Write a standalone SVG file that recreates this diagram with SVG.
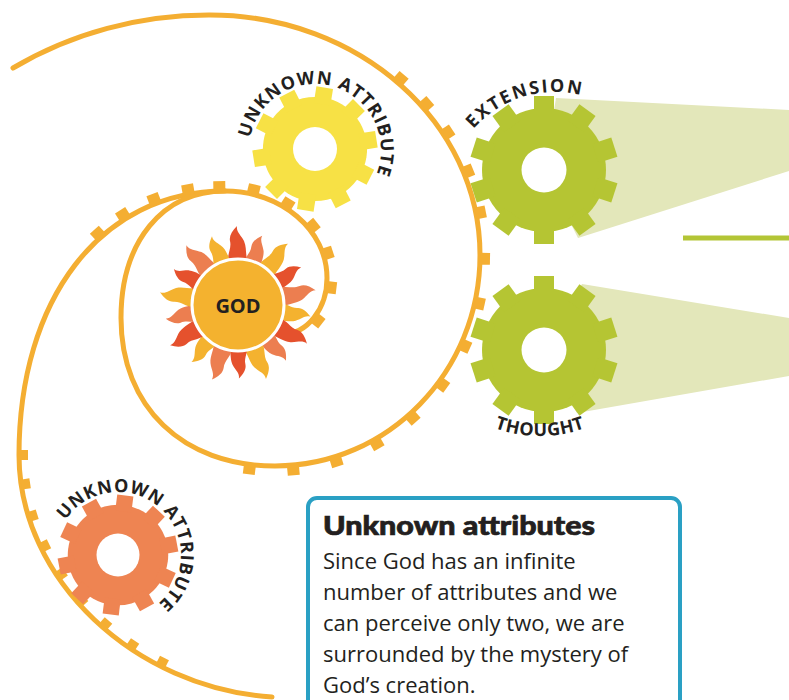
<svg xmlns="http://www.w3.org/2000/svg" xmlns:xlink="http://www.w3.org/1999/xlink" width="789" height="700" viewBox="0 0 789 700">
  <style>
    .spiral { fill: none; stroke: #f4ae32; stroke-width: 5; stroke-linecap: round; }
    .tooth { fill: #f4ae32; }
    .beam { fill: #e3e7ba; }
    .hole { fill: #ffffff; }
    .lbl { font-family: "Open Sans", "DejaVu Sans", sans-serif; font-weight: 700; font-size: 18px; fill: #231f20; letter-spacing: 1px; }
    .title { font-family: "Lato", "Open Sans", sans-serif; font-weight: 900; font-size: 26px; fill: #231f20; stroke: #231f20; stroke-width: 0.7px; }
    .body { font-family: "Open Sans", "DejaVu Sans", sans-serif; font-weight: 400; font-size: 22px; fill: #231f20; }
  </style>
  <defs>
    <!-- gear outline: body disc plus ten square teeth -->
    <g id="gear">
      <circle r="62"/>
      <rect x="-10" y="-74" width="20" height="20"/>
      <rect x="-10" y="-74" width="20" height="20" transform="rotate(36)"/>
      <rect x="-10" y="-74" width="20" height="20" transform="rotate(72)"/>
      <rect x="-10" y="-74" width="20" height="20" transform="rotate(108)"/>
      <rect x="-10" y="-74" width="20" height="20" transform="rotate(144)"/>
      <rect x="-10" y="-74" width="20" height="20" transform="rotate(180)"/>
      <rect x="-10" y="-74" width="20" height="20" transform="rotate(216)"/>
      <rect x="-10" y="-74" width="20" height="20" transform="rotate(252)"/>
      <rect x="-10" y="-74" width="20" height="20" transform="rotate(288)"/>
      <rect x="-10" y="-74" width="20" height="20" transform="rotate(324)"/>
    </g>
    <!-- spiral teeth, base on the stroke centre, pointing along -y -->
    <rect id="tb" class="tooth" x="-6" y="-10" width="12" height="10"/>
    <rect id="ts" class="tooth" x="-5" y="-9" width="10" height="9"/>
    <!-- one wavy sun ray pointing up -->
    <path id="ray" d="M-9,-42 C-12,-50 -6,-56 -8,-64 C-9,-69 -6,-74 -1,-79 C-2,-73 3,-70 6,-64 C9,-57 7,-51 10,-42 Z"/>
    <path id="arcY" d="M268.3,196.7 A66 66 0 1 1 361.7,196.7"/>
    <path id="arcO" d="M63.4,586.5 A63 63 0 1 1 149.5,609.6"/>
    <path id="arcE" d="M447,200 A108 108 0 0 1 663,200"/>
    <path id="arcT" d="M406,302 A134 134 0 0 0 674,302"/>
  </defs>

  <!-- light beams from the two perceived attributes -->
  <g id="beams">
    <polygon class="beam" points="556,98 789,110 789,171 578,238 544,170"/>
    <polygon class="beam" points="582,284 789,318 789,376 577,413 544,350"/>
    <line x1="683" y1="238" x2="789" y2="238" stroke="#b3c536" stroke-width="5"/>
  </g>

  <!-- spiral connectors -->
  <g id="connectors">
    <path id="spiral-inner" class="spiral" d="M283,334 C307,334 327,309 327,278 C327,230 281.3,191 225,191 C100,191 19,300 19,455 C19,580 135,688 272,697"/>
    <path id="spiral-outer" class="spiral" d="M225,191 C162.6,191 121,241.8 121,318 C121,406.8 182.6,466 275,466 C388.2,466 480,371.5 480,255 C480,122.5 359,15 210,15 A360 330 0 0 0 13,68"/>
    <g id="teeth-inner">
      <use href="#tb" transform="translate(314,317.6) rotate(128)"/>
      <use href="#tb" transform="translate(326.5,287) rotate(97)"/>
      <use href="#tb" transform="translate(323.3,254.5) rotate(72)"/>
      <use href="#tb" transform="translate(309.2,228.8) rotate(51)"/>
      <use href="#tb" transform="translate(285.2,207.8) rotate(32)"/>
      <use href="#tb" transform="translate(252.6,194.3) rotate(13.5)"/>
      <use href="#tb" transform="translate(219.4,191.1) rotate(-1)"/>
      <use href="#tb" transform="translate(188.8,194.2) rotate(-10)"/>
      <use href="#tb" transform="translate(155.6,203.5) rotate(-21)"/>
      <use href="#tb" transform="translate(125.4,218.7) rotate(-32)"/>
      <use href="#tb" transform="translate(101,237.1) rotate(-42)"/>
    </g>
    <g id="teeth-lower">
      <use href="#ts" transform="translate(19,455) rotate(90)"/>
      <use href="#ts" transform="translate(21.2,484.6) rotate(81.6)"/>
      <use href="#ts" transform="translate(28.6,516.9) rotate(72.6)"/>
      <use href="#ts" transform="translate(40.9,547.7) rotate(64)"/>
      <use href="#ts" transform="translate(57.6,576.5) rotate(55.9)"/>
      <use href="#ts" transform="translate(78.3,603.3) rotate(48.3)"/>
      <use href="#ts" transform="translate(102.6,627.2) rotate(41.1)"/>
      <use href="#ts" transform="translate(130.1,648.4) rotate(34)"/>
      <use href="#ts" transform="translate(160.4,666.1) rotate(27)"/>
    </g>
    <g id="teeth-outer">
      <use href="#tb" transform="translate(250,464.4) rotate(-172.8)"/>
      <use href="#tb" transform="translate(292.9,465.2) rotate(174.9)"/>
      <use href="#tb" transform="translate(334.9,456.8) rotate(162.5)"/>
      <use href="#tb" transform="translate(374.4,439.5) rotate(150.3)"/>
      <use href="#tb" transform="translate(409.5,414.2) rotate(138.2)"/>
      <use href="#tb" transform="translate(438.7,382) rotate(126.2)"/>
      <use href="#tb" transform="translate(460.8,344.2) rotate(114.4)"/>
      <use href="#tb" transform="translate(474.8,302.5) rotate(102.6)"/>
      <use href="#tb" transform="translate(480,258.7) rotate(91)"/>
      <use href="#tb" transform="translate(475.9,213.3) rotate(78.8)"/>
      <use href="#tb" transform="translate(463.7,172.9) rotate(67.7)"/>
      <use href="#tb" transform="translate(443.8,135) rotate(57)"/>
      <use href="#tb" transform="translate(422.8,107.2) rotate(48.7)"/>
      <use href="#tb" transform="translate(397.6,82.4) rotate(40.6)"/>
    </g>
  </g>

  <!-- God at the centre of the spiral -->
  <g id="god" transform="translate(238,305)">
    <g id="rays">
      <use href="#ray" fill="#e5512d"/>
      <use href="#ray" fill="#ec7e50" transform="rotate(20) scale(0.93)"/>
      <use href="#ray" fill="#f4b22f" transform="rotate(40)"/>
      <use href="#ray" fill="#e5512d" transform="rotate(60) scale(0.93)"/>
      <use href="#ray" fill="#ec7e50" transform="rotate(80)"/>
      <use href="#ray" fill="#f4b22f" transform="rotate(100) scale(0.93)"/>
      <use href="#ray" fill="#e5512d" transform="rotate(120)"/>
      <use href="#ray" fill="#ec7e50" transform="rotate(140) scale(0.93)"/>
      <use href="#ray" fill="#f4b22f" transform="rotate(160)"/>
      <use href="#ray" fill="#e5512d" transform="rotate(180) scale(0.93)"/>
      <use href="#ray" fill="#ec7e50" transform="rotate(200)"/>
      <use href="#ray" fill="#f4b22f" transform="rotate(220) scale(0.93)"/>
      <use href="#ray" fill="#e5512d" transform="rotate(240)"/>
      <use href="#ray" fill="#ec7e50" transform="rotate(260) scale(0.93)"/>
      <use href="#ray" fill="#f4b22f" transform="rotate(280)"/>
      <use href="#ray" fill="#e5512d" transform="rotate(300) scale(0.93)"/>
      <use href="#ray" fill="#ec7e50" transform="rotate(320)"/>
      <use href="#ray" fill="#f4b22f" transform="rotate(340) scale(0.93)"/>
    </g>
    <circle r="46" fill="#f4b22f" stroke="#ffffff" stroke-width="3"/>
    <text y="7.5" text-anchor="middle" font-family="'Open Sans', 'DejaVu Sans', sans-serif" font-weight="700" font-size="20" fill="#231f20">GOD</text>
  </g>

  <!-- attribute gears -->
  <g id="gear-unknown-top">
    <use href="#gear" fill="#f7e145" transform="translate(315,149) rotate(9) scale(0.84)"/>
    <circle class="hole" cx="315" cy="149" r="22"/>
    <text class="lbl"><textPath href="#arcY" startOffset="56%" text-anchor="middle">UNKNOWN ATTRIBUTE</textPath></text>
  </g>
  <g id="gear-extension">
    <use href="#gear" fill="#b5c533" transform="translate(544,170)"/>
    <circle class="hole" cx="544" cy="170" r="22.5"/>
    <text class="lbl" style="letter-spacing:2px"><textPath href="#arcE" startOffset="40.5%" text-anchor="middle">EXTENSION</textPath></text>
  </g>
  <g id="gear-thought">
    <use href="#gear" fill="#b5c533" transform="translate(544,350)"/>
    <circle class="hole" cx="544" cy="350" r="22.5"/>
    <text class="lbl" style="letter-spacing:0.5px"><textPath href="#arcT" startOffset="50%" text-anchor="middle">THOUGHT</textPath></text>
  </g>
  <g id="gear-unknown-bottom">
    <use href="#gear" fill="#ee8452" transform="translate(118,555) rotate(7) scale(0.81)"/>
    <circle class="hole" cx="118" cy="555" r="21.5"/>
    <text class="lbl" style="letter-spacing:0.8px"><textPath href="#arcO" startOffset="60%" text-anchor="middle">UNKNOWN ATTRIBUTE</textPath></text>
  </g>

  <!-- explanatory panel -->
  <g id="panel">
    <rect x="308" y="498" width="372" height="240" rx="9" fill="#ffffff" stroke="#2aa0c4" stroke-width="4"/>
    <text class="title" x="323" y="535" textLength="272" lengthAdjust="spacingAndGlyphs">Unknown attributes</text>
    <text class="body" x="323" y="569">Since God has an infinite</text>
    <text class="body" x="323" y="600">number of attributes and we</text>
    <text class="body" x="323" y="631">can perceive only two, we are</text>
    <text class="body" x="323" y="662">surrounded by the mystery of</text>
    <text class="body" x="323" y="693">God’s creation.</text>
  </g>
</svg>
